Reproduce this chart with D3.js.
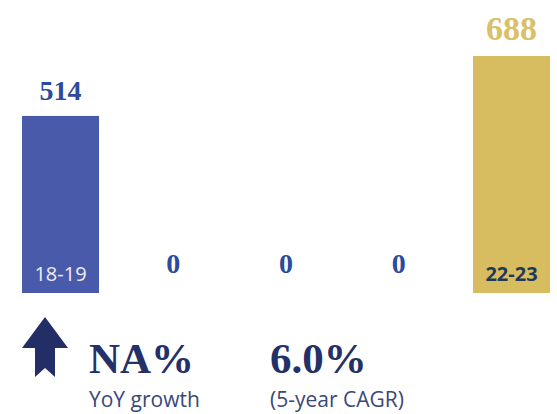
<!DOCTYPE html>
<html>
<head>
<meta charset="utf-8">
<script src="https://cdn.jsdelivr.net/npm/d3@7"></script>
<style>
  body { margin: 0; background: #fff; }
</style>
</head>
<body>
<div id="chart"></div>
<script>
/* Data. */
const years = ["18-19", "19-20", "20-21", "21-22", "22-23"]
const values = [514, 0, 0, 0, 688]
const yoyGrowth = "NA%"
const cagr = "6.0%"

/* Define svg-size. */
const width = 557
const height = 414

const svg = d3.select("#chart")
  .append("svg")
  .attr("width", width)
  .attr("height", height)

/* Scales. */
const x = d3.scaleBand()
  .domain(years)
  .range([22, 550])
  .paddingInner(0.317)
  .paddingOuter(0)

const y = d3.scaleLinear()
  .domain([0, 688])
  .range([293, 56])

const last = years.length - 1
const barColor = (d, i) => i === last ? "#d8bd60" : "#4a5aaa"

const bars = svg.append("g")

/* Bars. */
bars.selectAll("rect")
  .data(values)
  .enter()
  .append("rect")
  .attr("x", (d, i) => x(years[i]))
  .attr("y", d => y(d))
  .attr("width", x.bandwidth())
  .attr("height", d => y(0) - y(d))
  .attr("fill", barColor)

/* Value labels. The latest year is highlighted a bit bigger. */
bars.selectAll("text.value")
  .data(values)
  .enter()
  .append("text")
  .attr("class", "value")
  .attr("x", (d, i) => x(years[i]) + x.bandwidth() / 2)
  .attr("y", d => d > 0 ? y(d) - 16 : y(d) - 20)
  .attr("text-anchor", "middle")
  .attr("font-family", "'Liberation Serif', serif")
  .attr("font-weight", "bold")
  .attr("font-size", (d, i) => i === last ? 34 : 28)
  .attr("fill", (d, i) => i === last ? "#d9c06a" : "#2c4a9e")
  .text(d => d)

/* Year labels inside bars. */
bars.selectAll("text.year")
  .data(values)
  .enter()
  .filter(d => d > 0)
  .append("text")
  .attr("class", "year")
  .attr("x", d => x(years[values.indexOf(d)]) + x.bandwidth() / 2)
  .attr("y", 281)
  .attr("text-anchor", "middle")
  .attr("font-family", "'Open Sans', sans-serif")
  .attr("font-size", 20)
  .attr("font-weight", d => values.indexOf(d) === last ? "bold" : "normal")
  .attr("fill", d => values.indexOf(d) === last ? "#1f3a58" : "#eceef6")
  .text(d => years[values.indexOf(d)])

/* Growth arrow. */
svg.append("path")
  .attr("d", "M45,317 L68,348 L55,348 L55,377 L45,368 L35,377 L35,348 L22,348 Z")
  .attr("fill", "#232d66")

/* Summary stats. */
const stats = svg.append("g")

stats.selectAll("text.big")
  .data([yoyGrowth, cagr])
  .enter()
  .append("text")
  .attr("x", (d, i) => i === 0 ? 89 : 270)
  .attr("y", 373)
  .attr("font-family", "'Liberation Serif', serif")
  .attr("font-weight", "bold")
  .attr("font-size", 43)
  .attr("fill", "#243068")
  .text(d => d)

stats.selectAll("text.small")
  .data(["YoY growth", "(5-year CAGR)"])
  .enter()
  .append("text")
  .attr("x", (d, i) => i === 0 ? 89 : 270)
  .attr("y", 407)
  .attr("font-family", "'Open Sans', sans-serif")
  .attr("font-size", 21)
  .attr("fill", "#3a4878")
  .text(d => d)
</script>
</body>
</html>
